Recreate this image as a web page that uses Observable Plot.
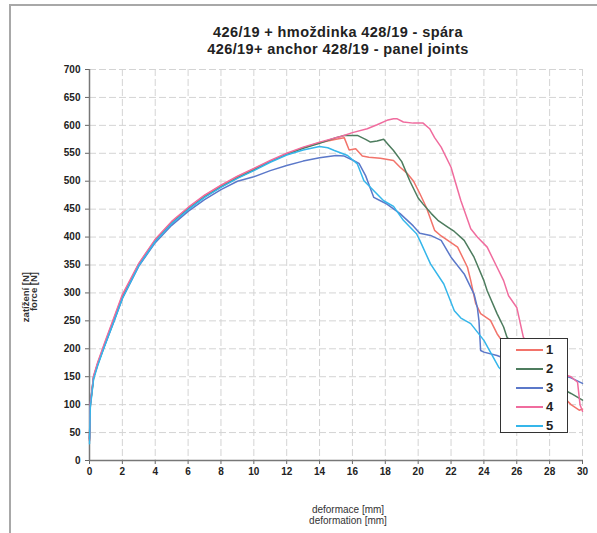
<!DOCTYPE html>
<html>
<head>
<meta charset="utf-8">
<script src="https://cdn.jsdelivr.net/npm/d3@7"></script>
<script src="https://cdn.jsdelivr.net/npm/@observablehq/plot@0.6"></script>
<style>
  html, body { margin: 0; padding: 0; background: #fff; }
  #wrap { position: relative; width: 597px; height: 533px; overflow: hidden; font-family: "Liberation Sans", Arial, sans-serif; }
  #frame { position: absolute; left: 9px; top: 4px; width: 600px; height: 600px; border-top: 2px solid #a8a8a8; border-left: 2px solid #a8a8a8; }
  #title { position: absolute; left: 118px; width: 440px; top: 24px; text-align: center; font-weight: bold; font-size: 14.5px; letter-spacing: 0.4px; line-height: 17px; color: #222; }
  #xlab { position: absolute; left: 248px; width: 200px; top: 504px; text-align: center; font-size: 10px; line-height: 11px; color: #333; }
  #ylab { position: absolute; left: 0; top: 0; }
  #legend { position: absolute; left: 500px; top: 338px; width: 68px; height: 95px; border: 1.5px solid #333; background: #fff; box-sizing: border-box; }
  .item { position: absolute; left: 15px; height: 14px; width: 50px; }
  .sw { position: absolute; left: 0; top: 6px; width: 27px; height: 0; border-top: 2px solid; }
  .lb { position: absolute; left: 30px; top: -1px; font-weight: bold; font-size: 13px; color: #222; }
  #chart svg { position: absolute; left: 0; top: 0; }
</style>
</head>
<body>
<div id="wrap">
  <div id="chart"></div>
  <div id="frame"></div>
  <div id="title">426/19 + hmoždinka 428/19 - spára<br>426/19+ anchor 428/19 - panel joints</div>
  <svg id="ylab" width="60" height="533">
    <text transform="translate(29,272) rotate(-90)" text-anchor="end" font-family="Liberation Sans, Arial, sans-serif" font-size="9.5" font-weight="bold" fill="#333">zatížení [N]</text>
    <text transform="translate(37,272) rotate(-90)" text-anchor="end" font-family="Liberation Sans, Arial, sans-serif" font-size="9.5" font-weight="bold" fill="#333">force [N]</text>
  </svg>
  <div id="xlab">deformace [mm]<br>deformation [mm]</div>
  <div id="legend"></div>
</div>
<script>
// ---- data ----
const xTicks = [0, 2, 4, 6, 8, 10, 12, 14, 16, 18, 20, 22, 24, 26, 28, 30];
const yTicks = [0, 50, 100, 150, 200, 250, 300, 350, 400, 450, 500, 550, 600, 650, 700];
const seriesNames = ["1", "2", "3", "4", "5"];
const seriesColors = ["#f2736a", "#4d7c5e", "#5b78c9", "#f06c9e", "#35b6ea"];

const x1 = [0, 0.05, 0.25, 0.5, 0.9, 1.5, 2, 3, 4, 5, 6, 7, 8, 9, 10, 11, 12, 13, 14, 15, 15.5, 15.8, 16.2, 16.6, 17, 17.7, 18.5, 18.9, 19.3, 19.7, 20.1, 20.5, 21.0, 21.4, 21.8, 22.4, 23.0, 23.2, 23.5, 23.8, 24.4, 24.8, 25.2, 26, 27, 28, 28.8, 29.3, 29.8, 30];
const y1 = [35, 100, 150, 174, 207, 255, 295, 352, 395, 427, 452, 474, 492, 508, 522, 536, 549, 560, 569, 575, 578, 556, 558, 545, 543, 541, 537, 525, 515, 501, 478, 453, 412, 402, 394, 382, 346, 322, 281, 263, 251, 227, 210, 190, 170, 140, 115, 100, 90, 92];

const x2 = [0, 0.05, 0.25, 0.5, 0.9, 1.5, 2, 3, 4, 5, 6, 7, 8, 9, 10, 11, 12, 13, 14, 15, 15.5, 16.3, 16.8, 17.1, 17.5, 17.9, 18.2, 18.5, 19.0, 19.5, 20.0, 20.3, 20.8, 21.2, 21.8, 22.2, 22.8, 23.4, 24.0, 24.2, 24.8, 25.2, 25.4, 26, 27, 28, 28.8, 29.3, 30];
const y2 = [38, 98, 148, 172, 205, 252, 292, 350, 393, 425, 450, 472, 490, 506, 520, 535, 548, 559, 568, 578, 582, 582, 575, 570, 572, 575, 565, 555, 535, 500, 470, 459, 442, 430, 418, 410, 394, 364, 322, 304, 263, 239, 221, 200, 170, 145, 128, 120, 108];

const x3 = [0, 0.05, 0.25, 0.5, 0.9, 1.5, 2, 3, 4, 5, 6, 7, 8, 9, 10, 11, 12, 13, 14, 15, 15.5, 16, 16.4, 16.8, 17.3, 17.7, 18.1, 18.9, 19.7, 20.1, 20.75, 21.4, 22.0, 22.8, 23.2, 23.4, 23.6, 23.7, 23.8, 24.0, 24.8, 25.5, 27, 28.5, 29.3, 30];
const y3 = [40, 102, 150, 173, 204, 250, 290, 348, 390, 421, 446, 467, 485, 500, 508, 519, 528, 536, 542, 546, 545, 538, 532, 510, 471, 465, 459, 442, 420, 407, 403, 394, 364, 334, 310, 298, 274, 250, 197, 194, 188, 180, 168, 155, 148, 138];

const x4 = [0, 0.05, 0.25, 0.5, 0.9, 1.5, 2, 3, 4, 5, 6, 7, 8, 9, 10, 11, 12, 13, 14, 15, 15.3, 16, 16.9, 17.5, 18.1, 18.5, 18.7, 19.1, 19.7, 20.3, 20.7, 21.0, 21.4, 22.0, 22.2, 22.6, 23.2, 23.6, 24.2, 24.8, 25.2, 25.5, 26.0, 26.4, 27, 28, 28.8, 29.3, 29.7, 29.85, 30];
const y4 = [36, 100, 152, 176, 209, 257, 297, 353, 396, 428, 453, 475, 493, 509, 523, 537, 550, 561, 570, 578, 580, 587, 594, 601, 609, 612, 612, 606, 604, 604, 594, 578, 561, 525, 505, 465, 415, 400, 382, 346, 322, 295, 274, 221, 195, 165, 155, 150, 140, 100, 88];

const x5 = [0, 0.05, 0.25, 0.5, 0.9, 1.5, 2, 3, 4, 5, 6, 7, 8, 9, 10, 11, 12, 13, 14, 14.5, 14.9, 15.7, 16.3, 16.7, 17.3, 17.9, 18.5, 19.1, 19.9, 20.1, 20.75, 21.56, 22.2, 22.6, 23.2, 24.0, 24.9, 25.5, 26];
const y5 = [30, 95, 146, 170, 203, 250, 290, 349, 392, 424, 449, 471, 489, 505, 519, 534, 547, 556, 562, 560, 555, 546, 531, 501, 483, 465, 455, 430, 406, 394, 352, 316, 268, 255, 245, 215, 167, 150, 140];

// ---- build tables ----
const xs = [x1, x2, x3, x4, x5];
const ys = [y1, y2, y3, y4, y5];
const tables = xs.map((xa, i) => xa.map((x, j) => ({x, y: ys[i][j]})));

const chart = Plot.plot({
  width: 597,
  height: 533,
  marginLeft: 89,
  marginRight: 15,
  marginTop: 69,
  marginBottom: 73,
  style: { fontFamily: "'Liberation Sans', Arial, sans-serif", color: "#222", background: "transparent" },
  x: { domain: [0, 30] },
  y: { domain: [0, 700] },
  marks: [
    Plot.ruleX(xTicks.slice(1), { stroke: "#d4d4d4", strokeWidth: 1, strokeDasharray: "7,3" }),
    Plot.ruleY(yTicks.slice(1), { stroke: "#d4d4d4", strokeWidth: 1, strokeDasharray: "7,3" }),
    Plot.axisX(xTicks, { tickSize: 4, tickPadding: 3, fontSize: 10, fontWeight: "bold", label: null, stroke: "#666" }),
    Plot.axisY(yTicks, { tickSize: 4, tickPadding: 5, fontSize: 10, fontWeight: "bold", label: null, stroke: "#666" }),
    Plot.ruleX([0], { stroke: "#777", strokeWidth: 1.5 }),
    Plot.ruleY([0], { stroke: "#777", strokeWidth: 1.5 }),
    ...tables.map((t, i) => Plot.line(t, { x: "x", y: "y", stroke: seriesColors[i], strokeWidth: 1.5 }))
  ]
});
document.getElementById("chart").appendChild(chart);

// legend
const leg = document.getElementById("legend");
const legTops = [4, 23, 42, 61, 80];
seriesNames.forEach((n, i) => {
  const it = document.createElement("div");
  it.className = "item";
  it.style.top = legTops[i] + "px";
  it.innerHTML = `<div class="sw" style="border-color:${seriesColors[i]}"></div><div class="lb">${n}</div>`;
  leg.appendChild(it);
});
</script>
</body>
</html>
